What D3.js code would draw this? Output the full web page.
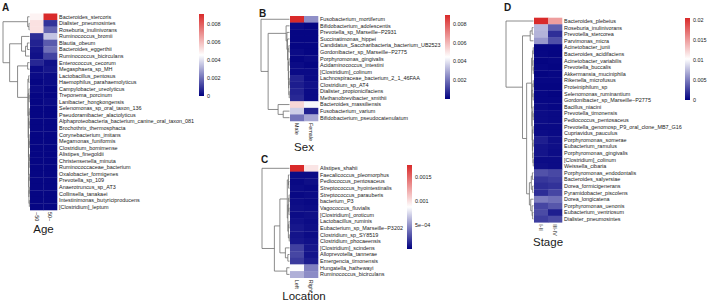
<!DOCTYPE html>
<html>
<head>
<meta charset="utf-8">
<script src="https://cdn.jsdelivr.net/npm/d3@7"></script>
<style>
  body { margin: 0; background: #fff; }
  text { font-family: "Liberation Sans", Arial, sans-serif; fill: #1a1a1a; }
</style>
</head>
<body>
<script>
// ---------- A: Age ----------
const ageRows = ["Bacteroides_stercoris", "Dialister_pneumosintes", "Roseburia_inulinivorans", "Ruminococcus_bromii",
  "Blautia_obeum", "Bacteroides_eggerthii", "Ruminococcus_bicirculans", "Enterococcus_cecorum", "Megasphaera_sp_MH",
  "Lactobacillus_pentosus", "Haemophilus_parahaemolyticus", "Campylobacter_ureolyticus", "Treponema_porcinum",
  "Lanibacter_hongkongensis", "Selenomonas_sp_oral_taxon_136", "Pseudoramibacter_alactolyticus",
  "Alphaproteobacteria_bacterium_canine_oral_taxon_081", "Brochothrix_thermosphacta", "Corynebacterium_imitans",
  "Megamonas_funiformis", "Clostridium_bornimense", "Alistipes_finegoldii", "Christensenella_minuta",
  "Ruminococcaceae_bacterium", "Oxalobacter_formigenes", "Prevotella_sp_109", "Anaerotruncus_sp_AT3",
  "Collinsella_tanakaei", "Intestinimonas_butyriciproducens", "[Clostridium]_leptum"];
const ageCols = ["~50", "50~"];
const ageValues = [
  [0.0048, 0.0091], [0.0052, 0.0009], [0.0052, 0.0018], [0.0008, 0.0035], [0.0006, 0.0016], [0.0004, 0.0020],
  [0.0003, 0.0012], [0.0007, 0.0003], [0.0002, 0.0004], [0.0002, 0.0002], [0.0001, 0.0002], [0.0002, 0.0001],
  [0.0001, 0.0001], [0.0001, 0.0002], [0.0001, 0.0001], [0.0001, 0.0001], [0.0001, 0.0001], [0.0001, 0.0001],
  [0.0001, 0.0001], [0.0001, 0.0001], [0.0001, 0.0001], [0.0001, 0.0001], [0.0001, 0.0001], [0.0001, 0.0001],
  [0.0001, 0.0001], [0.0001, 0.0001], [0.0001, 0.0001], [0.0001, 0.0001], [0.0001, 0.0001], [0.0001, 0.0001]];
const ageMax = 0.0091;
const ageTicks = [0, 0.002, 0.004, 0.006, 0.008];
const ageTickLabels = ["0", "0.002", "0.004", "0.006", "0.008"];
// tree nodes: [height, left, right], leaves are row indexes
const ageTree = [1,
  [0.07, 0, [0.02, 1, 2]],
  [0.75,
    [0.3, 3, [0.15, [0.08, 4, 5], 6]],
    [0.45, [0.07, 7, 8],
      [0.06, [0.03, 9, 10], [0.05, [0.02, 11, [0.015, 12, 13]], [0.04, [0.02, [0.01, 14, 15], [0.012, 16, 17]],
        [0.035, [0.015, 18, [0.008, 19, 20]], [0.03, [0.012, [0.006, 21, 22], 23],
          [0.025, [0.01, 24, 25], [0.02, [0.008, 26, 27], [0.006, 28, 29]]]]]]]]]]];

// ---------- B: Sex ----------
const sexRows = ["Fusobacterium_mortiferum", "Bifidobacterium_adolescentis", "Prevotella_sp_Marseille\u2212P2931",
  "Succinatimonas_hippei", "Candidatus_Saccharibacteria_bacterium_UB2523", "Gordonibacter_sp_Marseille\u2212P2775",
  "Porphyromonas_gingivalis", "Acidaminococcus_intestini", "[Clostridium]_colinum", "Lachnospiraceae_bacterium_2_1_46FAA",
  "Clostridium_sp_AT4", "Dialister_propionicifaciens", "Methanobrevibacter_smithii", "Bacteroides_massiliensis",
  "Fusobacterium_varium", "Bifidobacterium_pseudocatenulatum"];
const sexCols = ["Male", "Female"];
const sexValues = [
  [0.0089, 0.0025], [0.0002, 0.0001], [0.0001, 0.0001], [0.0001, 0.0001], [0.0001, 0.0001], [0.0002, 0.0001],
  [0.0001, 0.0002], [0.0002, 0.0001], [0.0002, 0.0002], [0.0006, 0.0002], [0.0005, 0.0003], [0.0006, 0.0002],
  [0.0007, 0.0002], [0.0053, 0.0043], [0.0036, 0.0006], [0.0020, 0.0029]];
const sexMax = 0.0089;
const sexTicks = [0.002, 0.004, 0.006, 0.008];
const sexTickLabels = ["0.002", "0.004", "0.006", "0.008"];
const sexTree = [1, 0,
  [0.75,
    [0.12, 1, [0.09, 2, [0.07, 3, [0.05, [0.02, 4, 5], [0.04, [0.015, 6, 7], [0.03, 8, [0.025, [0.01, 9, 10], [0.01, 11, 12]]]]]]]],
    [0.4, 13, [0.22, 14, 15]]]];

// ---------- C: Location ----------
const locRows = ["Alistipes_shahii", "Faecalicoccus_pleomorphus", "Pediococcus_pentosaceus", "Streptococcus_hyointestinalis",
  "Streptococcus_parauberis", "bacterium_P3", "Vagococcus_fluvialis", "[Clostridium]_oroticum", "Lactobacillus_ruminis",
  "Eubacterium_sp_Marseille\u2212P3202", "Clostridium_sp_SY8519", "Clostridium_phocaeensis", "[Clostridium]_scindens",
  "Alloprevotella_tannerae", "Emergencia_timonensis", "Hungatella_hathewayi", "Ruminococcus_bicirculans"];
const locCols = ["Left", "Right"];
const locValues = [
  [0.00175, 0.00098], [0.00004, 0.00004], [0.00003, 0.00005], [0.00004, 0.00003], [0.00003, 0.00004], [0.00004, 0.00003],
  [0.00005, 0.00004], [0.00004, 0.00005], [0.00006, 0.00004], [0.00008, 0.00005], [0.00007, 0.00004], [0.00008, 0.00006],
  [0.00022, 0.00008], [0.00024, 0.00007], [0.00020, 0.00010], [0.00086, 0.00044], [0.00060, 0.00048]];
const locMax = 0.00175;
const locTicks = [0.0005, 0.001, 0.0015];
const locTickLabels = ["5e\u221204", "0.001", "0.0015"];
const locTree = [1, 0,
  [0.55,
    [0.35,
      [0.08, [0.04, 1, [0.03, 2, 3]], [0.06, [0.03, [0.015, 4, 5], [0.02, 6, 7]], [0.04, [0.02, 8, 9], [0.01, 10, 11]]]],
      [0.15, 12, [0.06, 13, 14]]],
    [0.1, 15, 16]]];

// ---------- D: Stage ----------
const stageRows = ["Bacteroides_plebeius", "Roseburia_inulinivorans", "Prevotella_stercorea", "Parvimonas_micra",
  "Acinetobacter_junii", "Bacteroides_acidifaciens", "Acinetobacter_variabilis", "Prevotella_buccalis",
  "Akkermansia_muciniphila", "Rikenella_microfusus", "Proteiniphilum_sp", "Selenomonas_ruminantium",
  "Gordonibacter_sp_Marseille\u2212P2775", "Bacillus_niacini", "Prevotella_timonensis", "Pediococcus_pentosaceus",
  "Prevotella_genomosp_P9_oral_clone_MB7_G16", "Cupriavidus_pauculus", "Porphyromonas_somerae", "Eubacterium_ramulus",
  "Porphyromonas_gingivalis", "[Clostridium]_colinum", "Weissella_cibaria", "Porphyromonas_endodontalis",
  "Bacteroides_salyersiae", "Dorea_formicigenerans", "Pyramidobacter_piscolens", "Dorea_longicatena",
  "Porphyromonas_uenonis", "Eubacterium_ventriosum", "Dialister_pneumosintes"];
const stageCols = ["I-II", "III-IV"];
const stageValues = [
  [0.0205, 0.0149], [0.0074, 0.0038], [0.0072, 0.0019], [0.0061, 0.0032], [0.0003, 0.0003], [0.0003, 0.0002],
  [0.0002, 0.0003], [0.0003, 0.0002], [0.0002, 0.0003], [0.0003, 0.0003], [0.0002, 0.0002], [0.0003, 0.0002],
  [0.0003, 0.0003], [0.0004, 0.0003], [0.0005, 0.0004], [0.0005, 0.0004], [0.0004, 0.0004], [0.0005, 0.0004],
  [0.0012, 0.0006], [0.0008, 0.0006], [0.0008, 0.0005], [0.0005, 0.0005], [0.0006, 0.0005], [0.0033, 0.0029],
  [0.0022, 0.0025], [0.0018, 0.0020], [0.0018, 0.0028], [0.0050, 0.0045], [0.0028, 0.0035], [0.0030, 0.0012],
  [0.0025, 0.0030]];
const stageMax = 0.0205;
const stageTicks = [0, 0.005, 0.01, 0.015, 0.02];
const stageTickLabels = ["0", "0.005", "0.01", "0.015", "0.02"];
const stageTree = [1, 0,
  [0.4,
    [0.12, [0.05, 1, 2], 3],
    [0.25,
      [0.07, [0.03, [0.01, 4, 5], [0.015, 6, [0.008, 7, 8]]], [0.06, [0.025, [0.01, 9, 10], [0.012, 11, 12]],
        [0.05, [0.02, 13, [0.01, 14, 15]], [0.04, [0.015, 16, 17], [0.03, [0.01, 18, 19], [0.02, 20, [0.01, 21, 22]]]]]]],
      [0.15, [0.08, [0.04, 23, 24], [0.03, 25, 26]], [0.1, 27, [0.05, 28, [0.03, 29, 30]]]]]]];

const svg = d3.select('body').append('svg')
  .attr('width', 708)
  .attr('height', 303);

const labelSize = '5.45px';
let gradId = 0;

function drawPanel(p) {
  const g = svg.append('g');
  const n = p.rows.length;

  const y = d3.scaleBand().domain(d3.range(n)).range([p.top, p.top + n * p.rowH]);
  const x = d3.scaleBand().domain(p.cols).range([p.heatX, p.heatX + p.cols.length * p.colW]);
  const color = d3.scaleLinear()
    .domain([0, p.max / 2, p.max])
    .range(['#000080', '#ffffff', '#d92a2a'])
    .clamp(true);

  // cells
  const cells = [];
  p.values.forEach((v, i) => v.forEach((d, j) => cells.push({ row: i, col: p.cols[j], value: d })));
  g.selectAll('.cell')
    .data(cells)
    .enter()
    .append('rect')
    .attr('x', d => x(d.col))
    .attr('y', d => y(d.row))
    .attr('width', x.bandwidth() + 0.3)
    .attr('height', y.bandwidth() + 0.3)
    .style('fill', d => color(d.value));

  // row labels
  g.selectAll('.rowlab')
    .data(p.rows)
    .enter()
    .append('text')
    .attr('x', x.range()[1] + 2)
    .attr('y', (d, i) => y(i) + y.bandwidth() / 2)
    .attr('dy', '0.35em')
    .style('font-size', labelSize)
    .text(d => d);

  // column labels, rotated
  g.selectAll('.collab')
    .data(p.cols)
    .enter()
    .append('text')
    .attr('transform', d => `translate(${x(d) + x.bandwidth() / 2},${y.range()[1] + 2}) rotate(90)`)
    .attr('dy', '0.35em')
    .style('font-size', labelSize)
    .text(d => d);

  // row dendrogram
  const hx = d3.scaleLinear().domain([0, 1]).range([p.heatX - 0.5, p.treeX]);
  const segs = [];
  function walk(node) {
    if (typeof node === 'number') return { y: y(node) + y.bandwidth() / 2, h: 0 };
    const a = walk(node[1]);
    const b = walk(node[2]);
    const xh = hx(node[0]);
    segs.push(`M${hx(a.h)},${a.y}H${xh}V${b.y}H${hx(b.h)}`);
    return { y: (a.y + b.y) / 2, h: node[0] };
  }
  walk(p.tree);
  g.selectAll('.branch')
    .data(segs)
    .enter()
    .append('path')
    .attr('d', d => d)
    .style('fill', 'none')
    .style('stroke', '#6e6e6e')
    .style('stroke-width', 0.8);

  // legend
  const id = 'grad' + (gradId++);
  const grad = svg.append('defs').append('linearGradient')
    .attr('id', id)
    .attr('x1', 0).attr('x2', 0).attr('y1', 1).attr('y2', 0);
  d3.range(0, 1.0001, 0.05).forEach(t => {
    grad.append('stop').attr('offset', t).attr('stop-color', color(t * p.max));
  });
  const ly = d3.scaleLinear().domain([0, p.legend.max]).range([p.legend.bottom, p.legend.top]);
  g.append('rect')
    .attr('x', p.legend.x)
    .attr('y', ly(p.max))
    .attr('width', 5)
    .attr('height', ly(0) - ly(p.max))
    .style('fill', `url(#${id})`);
  const axis = g.append('g')
    .attr('transform', `translate(${p.legend.x + 5},0)`)
    .call(d3.axisRight(ly).tickValues(p.ticks).tickFormat((d, i) => p.tickLabels[i]).tickSize(0).tickPadding(3));
  axis.select('.domain').remove();
  axis.selectAll('text').style('font-size', labelSize).style('font-family', '"Liberation Sans", Arial, sans-serif').attr('fill', '#1a1a1a');

  // panel letter and title
  g.append('text')
    .attr('x', p.letter[0])
    .attr('y', p.letter[1])
    .style('font-size', '10px')
    .style('font-weight', 'bold')
    .text(p.name);
  g.append('text')
    .attr('x', p.heatX + p.cols.length * p.colW / 2)
    .attr('y', p.titleY)
    .attr('text-anchor', 'middle')
    .style('font-size', '11.5px')
    .text(p.title);
}

drawPanel({
  name: 'A', title: 'Age', rows: ageRows, cols: ageCols, values: ageValues, max: ageMax, tree: ageTree,
  ticks: ageTicks, tickLabels: ageTickLabels,
  heatX: 30, top: 13.5, rowH: 6.55, colW: 13.5, treeX: 3, letter: [2, 11], titleY: 233,
  legend: { x: 199, top: 14, bottom: 96, max: ageMax }
});
drawPanel({
  name: 'B', title: 'Sex', rows: sexRows, cols: sexCols, values: sexValues, max: sexMax, tree: sexTree,
  ticks: sexTicks, tickLabels: sexTickLabels,
  heatX: 290, top: 16, rowH: 6.56, colW: 14, treeX: 261, letter: [259, 17], titleY: 151,
  legend: { x: 445, top: 15, bottom: 99, max: sexMax }
});
drawPanel({
  name: 'C', title: 'Location', rows: locRows, cols: locCols, values: locValues, max: locMax, tree: locTree,
  ticks: locTicks, tickLabels: locTickLabels,
  heatX: 290, top: 165, rowH: 6.63, colW: 14, treeX: 262, letter: [261, 163], titleY: 300,
  legend: { x: 407, top: 165, bottom: 249, max: locMax }
});
drawPanel({
  name: 'D', title: 'Stage', rows: stageRows, cols: stageCols, values: stageValues, max: stageMax, tree: stageTree,
  ticks: stageTicks, tickLabels: stageTickLabels,
  heatX: 534, top: 17.7, rowH: 6.6, colW: 14, treeX: 506, letter: [504, 11], titleY: 246,
  legend: { x: 685, top: 18, bottom: 100, max: stageMax }
});
</script>
</body>
</html>
